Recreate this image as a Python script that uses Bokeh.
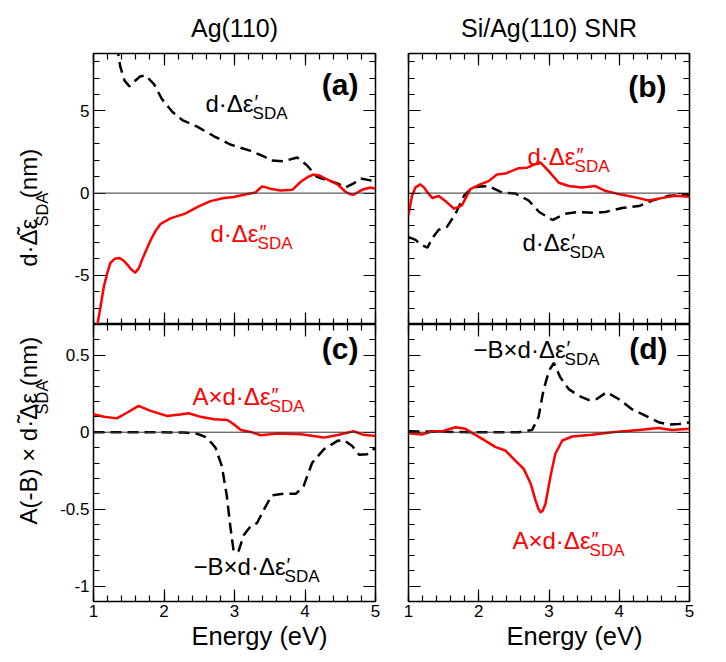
from math import pi
from bokeh.plotting import figure
from bokeh.models import (Range1d, LinearAxis, SingleIntervalTicker, Span, Label, Title,
                          CustomJSTickFormatter, CustomLabelingPolicy)
from bokeh.layouts import column, row
from bokeh.embed import file_html
from bokeh.resources import INLINE

# ---------------- data ----------------
# panel (a) Ag(110)
a_im_x = [1.04, 1.10, 1.15, 1.20, 1.24, 1.30, 1.37, 1.43, 1.48, 1.53, 1.59, 1.64, 1.69, 1.75, 1.81,
          1.88, 1.95, 2.09, 2.30, 2.47, 2.66, 2.85, 2.99, 3.18, 3.30, 3.35, 3.39, 3.45, 3.51, 3.65,
          3.82, 3.94, 4.04, 4.12, 4.20, 4.27, 4.36, 4.46, 4.57, 4.63, 4.69, 4.75, 4.81, 4.93, 5.0]
a_im_y = [-8.4, -6.9, -5.63, -4.8, -4.25, -4.0, -3.95, -4.12, -4.35, -4.62, -4.84, -4.6, -4.05,
          -3.45, -2.87, -2.3, -1.88, -1.54, -1.25, -0.85, -0.49, -0.30, -0.24, -0.06, 0.04, 0.25,
          0.40, 0.35, 0.26, 0.16, 0.20, 0.69, 0.98, 1.13, 1.08, 0.93, 0.75, 0.53, 0.10, -0.05,
          -0.10, 0.05, 0.20, 0.34, 0.26]
a_re_x = [1.33, 1.38, 1.44, 1.51, 1.58, 1.66, 1.74, 1.86, 1.97, 2.12, 2.26, 2.47, 2.71, 2.94, 3.23,
          3.42, 3.53, 3.70, 3.89, 4.03, 4.17, 4.31, 4.46, 4.57, 4.69, 4.79, 4.91, 5.0]
a_re_y = [9.0, 7.7, 6.85, 6.5, 6.8, 7.1, 7.17, 6.62, 5.73, 4.94, 4.45, 4.05, 3.46, 2.96, 2.57,
          2.23, 1.98, 1.94, 2.17, 1.68, 0.99, 0.79, 0.59, 0.34, 0.59, 0.89, 0.79, 0.69]

# panel (b) Si/Ag(110) SNR
b_im_x = [1.0, 1.05, 1.10, 1.17, 1.22, 1.27, 1.34, 1.43, 1.53, 1.65, 1.76, 1.88, 2.02, 2.14, 2.26,
          2.38, 2.57, 2.69, 2.78, 2.88, 3.00, 3.14, 3.28, 3.47, 3.66, 3.80, 3.99, 4.23, 4.42, 4.66,
          4.80, 5.0]
b_im_y = [-1.34, -0.16, 0.35, 0.53, 0.35, 0.04, -0.30, -0.18, -0.50, -0.95, -0.75, 0.24, 0.53,
          0.73, 1.13, 1.19, 1.52, 1.55, 1.72, 1.86, 1.32, 0.63, 0.43, 0.34, 0.43, 0.14, -0.06,
          -0.26, -0.45, -0.26, -0.16, -0.22]
b_re_x = [1.0, 1.05, 1.10, 1.17, 1.27, 1.34, 1.43, 1.55, 1.67, 1.79, 1.91, 2.02, 2.14, 2.33, 2.52,
          2.71, 2.86, 3.05, 3.23, 3.42, 3.66, 3.80, 4.04, 4.28, 4.47, 4.71, 5.0]
b_re_y = [-2.70, -2.75, -2.85, -3.12, -3.32, -2.73, -2.23, -2.04, -1.25, -0.16, 0.34, 0.40, 0.43,
          0.04, -0.02, -0.45, -1.15, -1.64, -1.25, -1.15, -1.21, -1.15, -0.91, -0.79, -0.45,
          -0.16, -0.10]

# panel (c) Ag(110), weighted
c_im_x = [1.0, 1.15, 1.33, 1.48, 1.64, 1.81, 2.04, 2.23, 2.35, 2.52, 2.71, 2.90, 2.99, 3.09, 3.23,
          3.37, 3.61, 3.94, 4.27, 4.48, 4.69, 4.83, 5.0]
c_im_y = [0.117, 0.10, 0.09, 0.128, 0.171, 0.139, 0.106, 0.115, 0.123, 0.10, 0.084, 0.08, 0.052,
          0.015, 0.002, -0.02, -0.009, -0.013, -0.035, -0.017, 0.006, -0.017, -0.024]
c_re_x = [1.0, 1.90, 2.28, 2.47, 2.61, 2.73, 2.82, 2.89, 2.94, 2.99, 3.06, 3.13, 3.23, 3.32, 3.42,
          3.53, 3.70, 3.87, 3.98, 4.10, 4.27, 4.46, 4.55, 4.67, 4.77, 4.88, 5.0]
c_re_y = [0.0, 0.0, -0.002, -0.01, -0.035, -0.10, -0.22, -0.41, -0.61, -0.78, -0.77, -0.67, -0.61,
          -0.59, -0.50, -0.41, -0.40, -0.40, -0.35, -0.20, -0.11, -0.056, -0.05, -0.09, -0.147,
          -0.143, -0.10]

# panel (d) Si/Ag(110) SNR, weighted
d_im_x = [1.0, 1.19, 1.34, 1.48, 1.67, 1.81, 1.91, 2.05, 2.24, 2.38, 2.52, 2.64, 2.74, 2.81, 2.85,
          2.88, 2.91, 2.95, 3.02, 3.09, 3.19, 3.33, 3.61, 3.90, 4.28, 4.56, 4.75, 5.0]
d_im_y = [-0.006, -0.015, 0.006, 0.006, 0.032, 0.022, -0.006, -0.043, -0.097, -0.119, -0.184,
          -0.238, -0.335, -0.444, -0.50, -0.52, -0.51, -0.465, -0.29, -0.14, -0.054, -0.028,
          -0.017, 0.0, 0.015, 0.028, 0.015, 0.022]
d_re_x = [1.0, 1.91, 2.57, 2.76, 2.85, 2.92, 3.00, 3.07, 3.16, 3.28, 3.42, 3.56, 3.68, 3.82, 3.99,
          4.18, 4.37, 4.56, 4.70, 4.85, 5.0]
d_re_y = [0.006, 0.0, 0.0, 0.015, 0.097, 0.27, 0.40, 0.45, 0.357, 0.28, 0.238, 0.21, 0.216, 0.26,
          0.216, 0.15, 0.108, 0.065, 0.05, 0.054, 0.063]

col_titles = ["Ag(110)", "Si/Ag(110) SNR"]
panel_tags = ["(a)", "(b)", "(c)", "(d)"]
x_label = "Energy (eV)"

# ---------------- styling / geometry ----------------
FONT = "Liberation Sans"
RED = "#ff0000"
X_RANGE = (1, 5)
Y_TOP = (-8, 8.5)
Y_BOT = (-1.1, 0.7)
STRIP_W = 50
FX_L, FX_R = (93, 375), (408, 689)      # frame edges on the page
FY_T, FY_B = (46, 324), (324, 601)
MID = 0.35                              # em offset of text middle above baseline

W = {'d': .556, '·': .333, 'Δ': .668, 'ε': .446, 'A': .667, '×': .584, '−': .584, 'B': .667,
     ' ': .278, '(': .333, ')': .333, '-': .333, 'n': .556, 'm': .833, 'S': .667, 'D': .722}


def tw(s, size):
    return sum(W.get(c, .556) for c in s) * size


fmt = CustomJSTickFormatter(code="return String(Math.round(tick*1000)/1000);")
blank_fmt = CustomJSTickFormatter(code="return '';")
hide_all = CustomLabelingPolicy(code="""
try { for (const i of Array.from(indices)) { indices.unset(i) } } catch (e) {}
return indices
""")


def style_axis(ax, show):
    ax.axis_line_color = None
    ax.major_tick_in, ax.major_tick_out = 12, 0
    ax.minor_tick_in, ax.minor_tick_out = 6, 0
    ax.major_tick_line_color = "black"
    ax.minor_tick_line_color = "black"
    ax.major_tick_line_width = 1.2
    ax.minor_tick_line_width = 1.2
    if show:
        ax.formatter = fmt
        ax.major_label_text_font = FONT
        ax.major_label_text_font_size = "17px"
        ax.major_label_text_color = "black"
    else:
        ax.formatter = blank_fmt
        ax.major_label_policy = hide_all
        ax.major_label_text_font_size = "1px"
        ax.major_label_standoff = 0


def make_panel(fx, fy, yr, border, show_x, show_y, title=""):
    l, r, t, b = border
    p = figure(width=l + fx[1] - fx[0] + r, height=t + fy[1] - fy[0] + b,
               x_range=Range1d(*X_RANGE), y_range=Range1d(*yr),
               x_axis_location=None, y_axis_location=None,
               output_backend="svg", toolbar_location=None,
               min_border_left=l, min_border_right=r, min_border_top=t, min_border_bottom=b)
    p.grid.visible = False
    p.outline_line_color = "black"
    p.outline_line_width = 1.5
    p.background_fill_color = "white"
    p.border_fill_color = "white"
    if title:
        p.title.text = title
        p.title.align = "center"
        p.title.text_font = FONT
        p.title.text_font_size = "25px"
        p.title.text_font_style = "normal"
        p.title.text_color = "black"
        p.title.standoff = 23
    yint = 5 if yr == Y_TOP else 0.5
    for loc in ("below", "above"):
        ax = LinearAxis(ticker=SingleIntervalTicker(interval=1, num_minor_ticks=5))
        style_axis(ax, show_x and loc == "below")
        if show_x and loc == "below":
            ax.major_label_standoff = 3
        p.add_layout(ax, loc)
    if show_x:
        p.add_layout(Title(text=x_label, align="left", offset=98, text_font=FONT,
                           text_font_size="25.5px", text_font_style="normal",
                           text_color="black", standoff=0), "below")
    for loc in ("left", "right"):
        ax = LinearAxis(ticker=SingleIntervalTicker(interval=yint, num_minor_ticks=5))
        style_axis(ax, show_y and loc == "left")
        if show_y and loc == "left":
            ax.major_label_standoff = 4
        p.add_layout(ax, loc)
    p.add_layout(Span(location=0, dimension="width", line_color="#333333", line_width=1))
    return dict(fig=p, fx=fx, fy=fy, xr=X_RANGE, yr=yr)


def make_strip(fy):
    h = fy[1] - fy[0]
    p = figure(width=STRIP_W, height=h, x_range=Range1d(0, STRIP_W), y_range=Range1d(0, h),
               x_axis_location=None, y_axis_location=None,
               output_backend="svg", toolbar_location=None,
               min_border_left=0, min_border_right=0, min_border_top=0, min_border_bottom=0)
    p.grid.visible = False
    p.outline_line_color = None
    p.background_fill_color = "white"
    p.border_fill_color = "white"
    return dict(fig=p, fx=(0, STRIP_W), fy=fy, xr=(0, STRIP_W), yr=(0, h))


S1 = make_strip((0, 324))
S2 = make_strip((324, 655))
A = make_panel(FX_L, FY_T, Y_TOP, (FX_L[0] - STRIP_W, 16, 46, 0), False, True, col_titles[0])
B = make_panel(FX_R, FY_T, Y_TOP, (17, 20, 46, 0), False, False, col_titles[1])
C = make_panel(FX_L, FY_B, Y_BOT, (FX_L[0] - STRIP_W, 16, 0, 54), True, True)
D = make_panel(FX_R, FY_B, Y_BOT, (17, 20, 0, 54), True, False)


def to_data(P, px, py):
    x0, x1 = P['fx']
    y0, y1 = P['fy']
    q0, q1 = P['xr']
    r0, r1 = P['yr']
    return (q0 + (px - x0) / (x1 - x0) * (q1 - q0),
            r1 - (py - y0) / (y1 - y0) * (r1 - r0))


def text(P, px, py, s, size, color="black", bold=False, align="left", vertical=False):
    """(px, py): start of the text's baseline on the page."""
    if vertical:
        px, ang = px - MID * size, pi / 2
    else:
        py, ang = py - MID * size, 0.0
    x, y = to_data(P, px, py)
    P['fig'].add_layout(Label(x=x, y=y, text=s, text_font=FONT, text_font_size=f"{size}px",
                              text_color=color, text_font_style="bold" if bold else "normal",
                              text_align=align, text_baseline="middle", angle=ang))


def curve_label(P, px, py, main, prime, color):
    text(P, px, py, main, 24, color)
    xe = px + tw(main, 24)
    text(P, xe + 1, py - 3, prime, 20, color)
    text(P, xe - 1, py + 8, "SDA", 17, color)


def y_label(P, px, py, main):
    # main text ends with "ε"; a tilde accent is put over it
    text(P, px, py, main, 24, vertical=True)
    eps_mid = py - tw(main[:-1], 24) - tw("ε", 24) / 2
    text(P, px - 3, eps_mid, "˜", 24, align="center", vertical=True)
    y2 = py - tw(main, 24)
    text(P, px + 11, y2, "SDA", 16.5, vertical=True)
    y3 = y2 - tw("SDA", 16.5)
    text(P, px, y3, "(nm)", 24, vertical=True)


def draw(P, xim, yim, xre, yre):
    p = P['fig']
    p.line(xre, yre, line_color="black", line_width=2.5, line_dash="11 6")
    p.line(xim, yim, line_color=RED, line_width=2.5, line_join="round")


draw(A, a_im_x, a_im_y, a_re_x, a_re_y)
draw(B, b_im_x, b_im_y, b_re_x, b_re_y)
draw(C, c_im_x, c_im_y, c_re_x, c_re_y)
draw(D, d_im_x, d_im_y, d_re_x, d_re_y)

# panel tags
text(A, 358, 88, panel_tags[0], 30, bold=True, align="right")
text(B, 666, 90, panel_tags[1], 30, bold=True, align="right")
text(C, 358, 358, panel_tags[2], 30, bold=True, align="right")
text(D, 667, 358, panel_tags[3], 30, bold=True, align="right")

# curve labels
curve_label(A, 205, 106, "d·Δε", "′", "black")
curve_label(A, 210, 239, "d·Δε", "″", RED)
curve_label(B, 527, 160, "d·Δε", "″", RED)
curve_label(B, 522, 248, "d·Δε", "′", "black")
curve_label(C, 192, 404, "A×d·Δε", "″", RED)
curve_label(C, 193, 574, "−B×d·Δε", "′", "black")
curve_label(D, 473, 357, "−B×d·Δε", "′", "black")
curve_label(D, 512, 548, "A×d·Δε", "″", RED)

# y-axis titles (in the strips left of the panels)
y_label(S1, 36, 255, "d·Δε")
y_label(S2, 36, 563, "A(-B) × d·Δε")

layout = column(row(S1['fig'], A['fig'], B['fig']), row(S2['fig'], C['fig'], D['fig']))
open("out.html", "w").write(file_html(layout, INLINE))
